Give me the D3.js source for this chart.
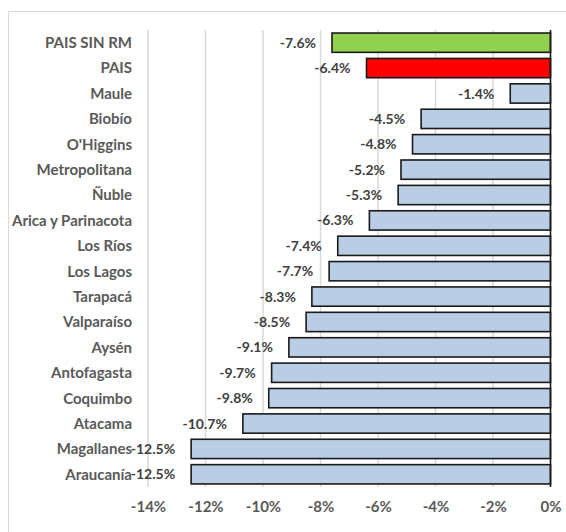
<!DOCTYPE html>
<html>
<head>
<meta charset="utf-8">
<script src="https://cdn.jsdelivr.net/npm/d3@7"></script>
<style>
  body { margin: 0; background: #fff; }
  svg text { font-family: Lato, "Open Sans", sans-serif; font-weight: bold; }
</style>
</head>
<body>
<div id="chart"></div>
<script>
// Chart values
const regions = ["PAIS SIN RM", "PAIS", "Maule", "Biobío", "O'Higgins", "Metropolitana", "Ñuble",
  "Arica y Parinacota", "Los Ríos", "Los Lagos", "Tarapacá", "Valparaíso", "Aysén",
  "Antofagasta", "Coquimbo", "Atacama", "Magallanes", "Araucanía"];
const values = [-7.6, -6.4, -1.4, -4.5, -4.8, -5.2, -5.3, -6.3, -7.4, -7.7, -8.3, -8.5, -9.1,
  -9.7, -9.8, -10.7, -12.5, -12.5];
const ticks = [-14, -12, -10, -8, -6, -4, -2, 0];

const width = 566;
const height = 532;
const fontSize = 15;

// plot area
const plotLeft = 148, plotRight = 550.5, plotTop = 30, plotBottom = 487;

const svg = d3.select("#chart")
  .append("svg")
  .attr("width", width)
  .attr("height", height);

// chart border
svg.append("rect")
  .attr("x", 8.5).attr("y", 11.5)
  .attr("width", 600).attr("height", 600)
  .attr("fill", "none")
  .attr("stroke", "#d9d9d9");

const x = d3.scaleLinear().domain([-14, 0]).range([plotLeft, plotRight]);
const y = d3.scaleBand().domain(regions).range([plotTop, plotBottom]).paddingInner(0.24).paddingOuter(0.12);

// gridlines
svg.append("g")
  .selectAll("line")
  .data(ticks.slice(0, -1))
  .enter()
  .append("line")
  .attr("x1", d => x(d)).attr("x2", d => x(d))
  .attr("y1", plotTop).attr("y2", plotBottom)
  .attr("stroke", "#d9d9d9")
  .attr("stroke-width", 1.5);

const data = regions.map((r, i) => ({ region: r, value: values[i] }));

function barColor(d) {
  if (d.region === "PAIS SIN RM") return "#92d050";
  if (d.region === "PAIS") return "#ff0000";
  return "#b9cde5";
}

// bars
svg.append("g")
  .selectAll("rect")
  .data(data)
  .enter()
  .append("rect")
  .attr("x", d => x(d.value))
  .attr("y", d => y(d.region))
  .attr("width", d => x(0) - x(d.value))
  .attr("height", y.bandwidth())
  .attr("fill", barColor)
  .attr("stroke", "#1a1a1a")
  .attr("stroke-width", 1.6);

// zero axis line
svg.append("line")
  .attr("x1", x(0)).attr("x2", x(0))
  .attr("y1", plotTop).attr("y2", plotBottom)
  .attr("stroke", "#1a1a1a")
  .attr("stroke-width", 1.6);

// value labels
svg.append("g")
  .selectAll("text")
  .data(data)
  .enter()
  .append("text")
  .attr("x", d => x(d.value) - 16)
  .attr("y", d => y(d.region) + y.bandwidth() / 2)
  .attr("dy", "0.36em")
  .attr("text-anchor", "end")
  .attr("font-size", 14)
  .attr("fill", "#404040")
  .text(d => d.value.toFixed(1) + "%");

// category labels
svg.append("g")
  .selectAll("text")
  .data(data)
  .enter()
  .append("text")
  .attr("x", 132)
  .attr("y", d => y(d.region) + y.bandwidth() / 2)
  .attr("dy", "0.36em")
  .attr("text-anchor", "end")
  .attr("font-size", fontSize)
  .attr("fill", "#595959")
  .text(d => d.region);

// x axis
const xAxis = svg.append("g")
  .attr("transform", "translate(0," + plotBottom + ")")
  .call(d3.axisBottom(x).tickValues(ticks).tickSize(0).tickPadding(14).tickFormat(d => d + "%"));
xAxis.select(".domain").remove();
xAxis.selectAll("text")
  .attr("font-size", fontSize)
  .attr("font-family", "Lato, 'Open Sans', sans-serif")
  .attr("font-weight", "bold")
  .attr("fill", "#595959");
</script>
</body>
</html>
